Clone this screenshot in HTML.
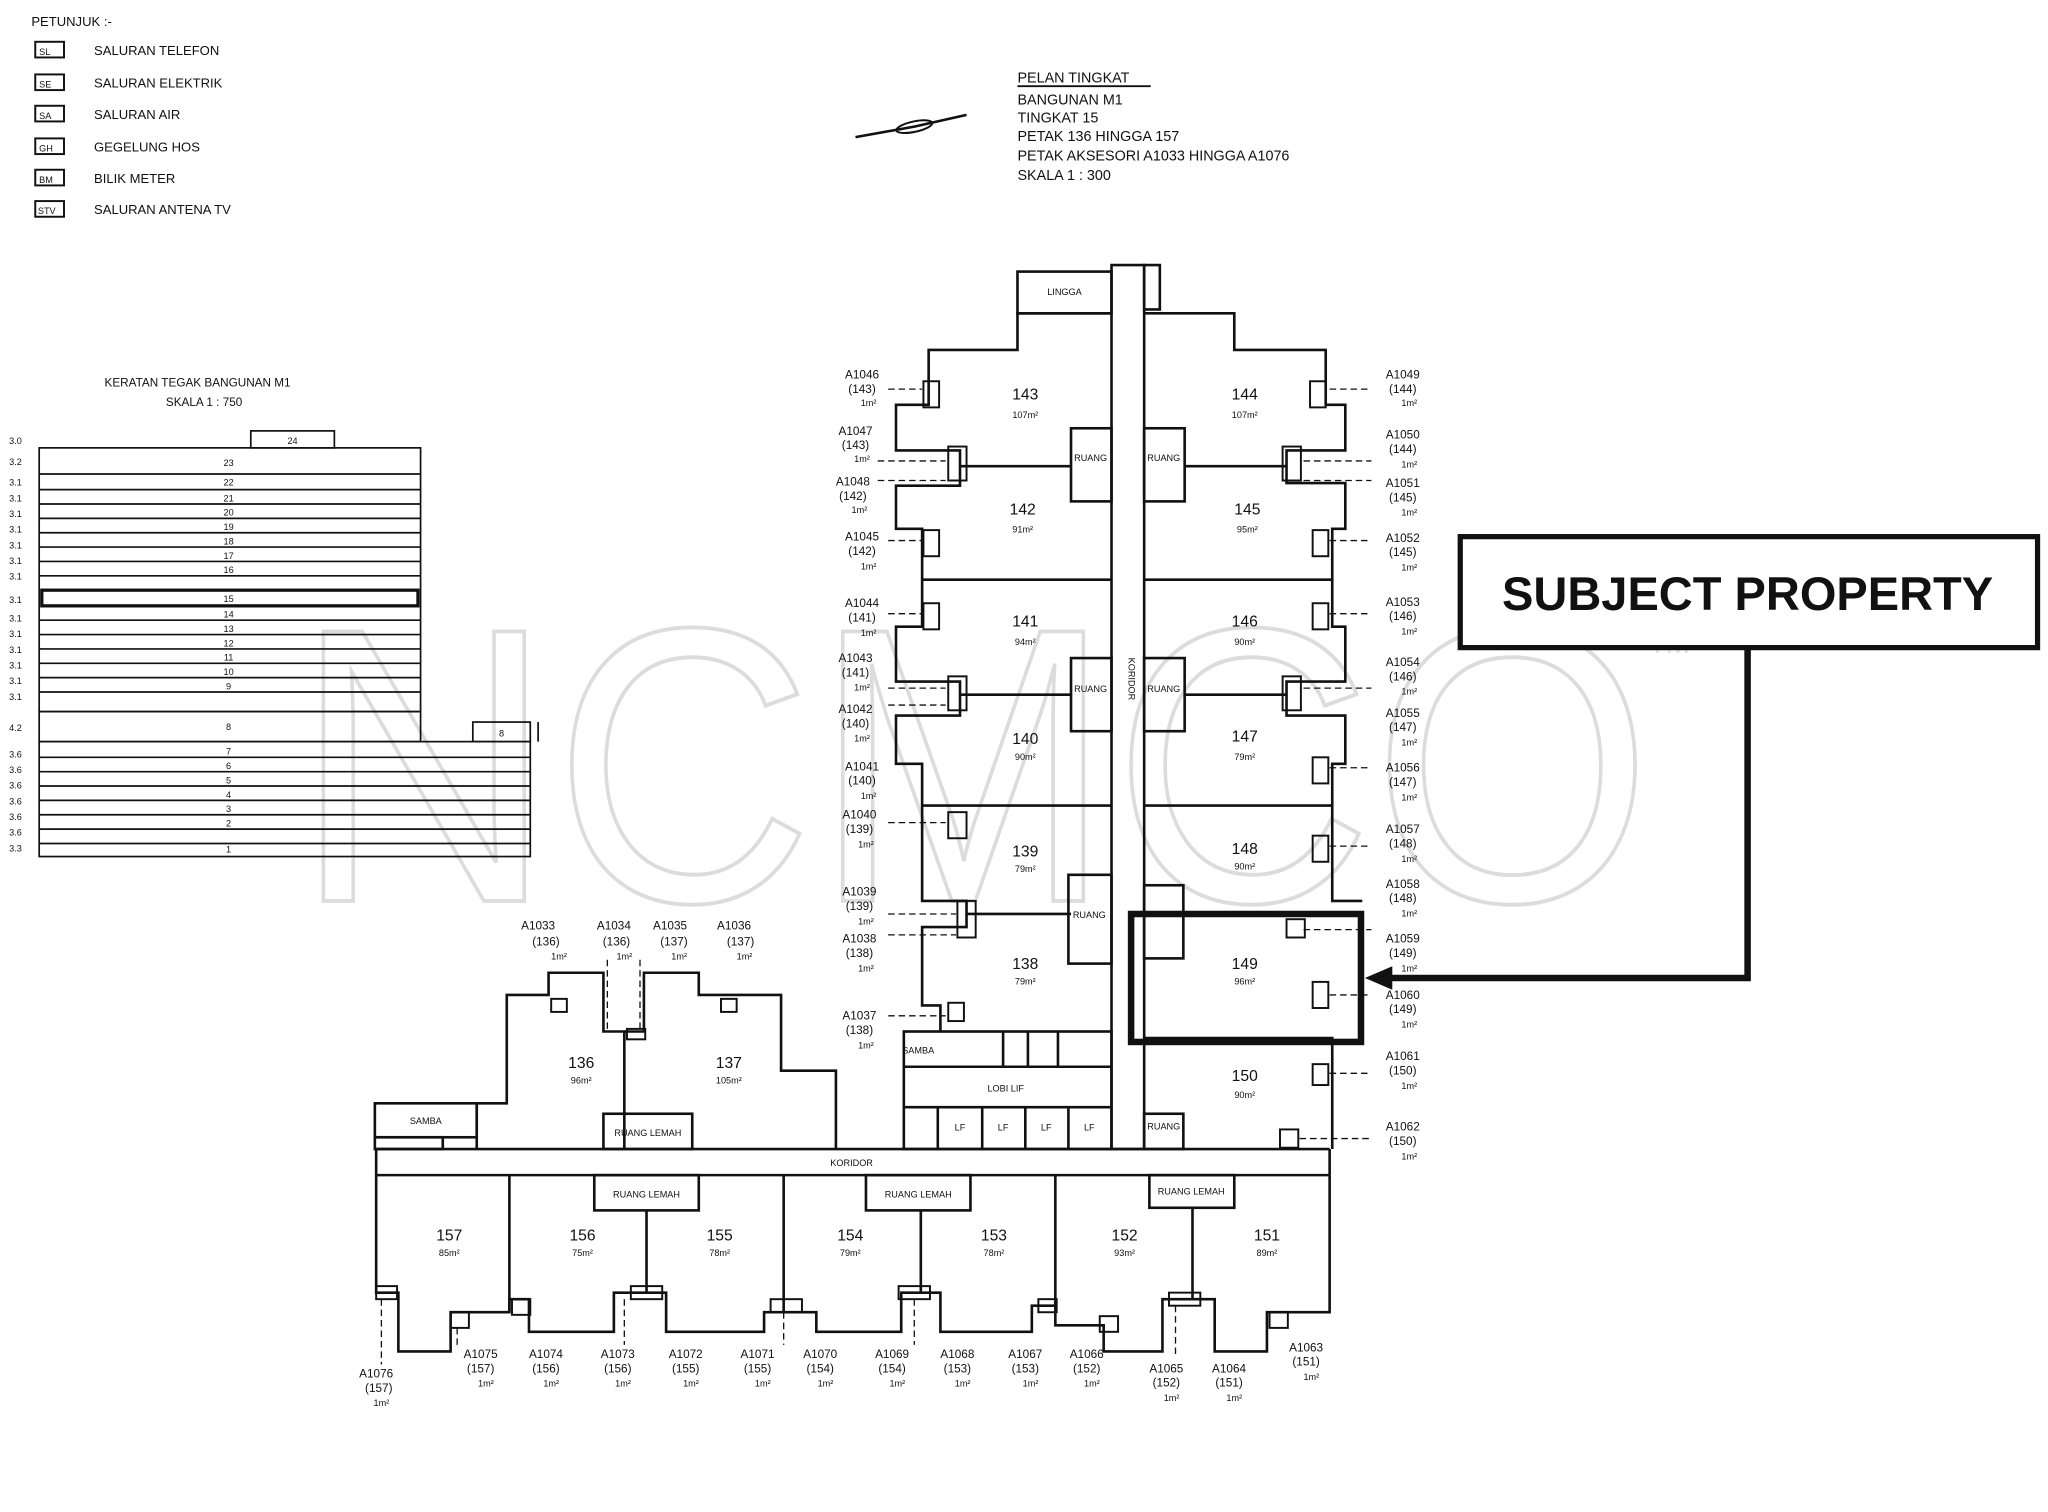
<!DOCTYPE html>
<html><head><meta charset="utf-8">
<style>
html,body{margin:0;padding:0;background:#fff;}
svg{display:block;}
text{font-family:"Liberation Sans",sans-serif;fill:#111;}
.s{font-size:9px;}
.xs{font-size:7px;}
.m{font-size:11px;}
</style></head>
<body>
<svg width="2048" height="1512" viewBox="0 0 1568 1158" preserveAspectRatio="none" xmlns="http://www.w3.org/2000/svg">
<rect width="1568" height="1158" fill="#fff"/>
<!-- watermark -->
<g fill="none" stroke="#d8d8d8" stroke-width="3" font-family="Liberation Sans" >
<text x="225" y="690" font-size="300" style="fill:none;stroke:#dcdcdc;stroke-width:3" textLength="1040" lengthAdjust="spacingAndGlyphs">NCMCO</text>
</g>
<text x="1262" y="500" font-size="22" style="fill:#e0e0e0">TM</text>

<!-- legend -->
<g class="s">
<text x="24" y="20" font-size="10">PETUNJUK :-</text>
<g fill="none" stroke="#111" stroke-width="1.5">
<rect x="27" y="32" width="22" height="12"/><rect x="27" y="57" width="22" height="12"/><rect x="27" y="81" width="22" height="12"/>
<rect x="27" y="106" width="22" height="12"/><rect x="27" y="130" width="22" height="12"/><rect x="27" y="154" width="22" height="12"/>
</g>
<text x="30" y="42" class="xs">SL</text><text x="30" y="67" class="xs">SE</text><text x="30" y="91" class="xs">SA</text>
<text x="30" y="116" class="xs">GH</text><text x="30" y="140" class="xs">BM</text><text x="29" y="164" class="xs">STV</text>
<text x="72" y="42" font-size="10">SALURAN TELEFON</text>
<text x="72" y="67" font-size="10">SALURAN ELEKTRIK</text>
<text x="72" y="91" font-size="10">SALURAN AIR</text>
<text x="72" y="116" font-size="10">GEGELUNG HOS</text>
<text x="72" y="140" font-size="10">BILIK METER</text>
<text x="72" y="164" font-size="10">SALURAN ANTENA TV</text>
</g>
<!-- north arrow -->
<path d="M655 105 L700 97 L740 88" stroke="#111" stroke-width="2" fill="none"/>
<ellipse cx="700" cy="97" rx="14" ry="4" transform="rotate(-12 700 97)" fill="none" stroke="#111" stroke-width="1.5"/>
<!-- title -->
<g font-size="11">
<text x="779" y="63">PELAN TINGKAT</text>
<line x1="779" y1="66" x2="881" y2="66" stroke="#111" stroke-width="1.5"/>
<text x="779" y="80">BANGUNAN M1</text>
<text x="779" y="94">TINGKAT 15</text>
<text x="779" y="108">PETAK 136 HINGGA 157</text>
<text x="779" y="123">PETAK AKSESORI A1033 HINGGA A1076</text>
<text x="779" y="138">SKALA 1 : 300</text>
</g>

<!-- section -->
<text x="80" y="296" class="s" font-size="10">KERATAN TEGAK BANGUNAN M1</text>
<text x="127" y="311" class="s" font-size="10">SKALA 1 : 750</text>
<g stroke="#111" fill="none" stroke-width="1.3">
<rect x="192" y="330" width="64" height="13"/>
<rect x="30" y="343" width="292" height="202"/>
<rect x="30" y="545" width="292" height="23"/>
<rect x="30" y="568" width="376" height="88"/>
<rect x="362" y="553" width="44" height="15"/>
<line x1="412" y1="553" x2="412" y2="568"/>
<rect x="32" y="452" width="288" height="12" stroke-width="2.5"/>
<line x1="30" y1="363" x2="322" y2="363"/><line x1="30" y1="375" x2="322" y2="375"/>
<line x1="30" y1="386" x2="322" y2="386"/><line x1="30" y1="397" x2="322" y2="397"/>
<line x1="30" y1="408" x2="322" y2="408"/><line x1="30" y1="419" x2="322" y2="419"/>
<line x1="30" y1="430" x2="322" y2="430"/><line x1="30" y1="441" x2="322" y2="441"/>
<line x1="30" y1="475" x2="322" y2="475"/><line x1="30" y1="486" x2="322" y2="486"/>
<line x1="30" y1="497" x2="322" y2="497"/><line x1="30" y1="508" x2="322" y2="508"/>
<line x1="30" y1="519" x2="322" y2="519"/><line x1="30" y1="530" x2="322" y2="530"/>
<line x1="30" y1="580" x2="406" y2="580"/><line x1="30" y1="591" x2="406" y2="591"/>
<line x1="30" y1="602" x2="406" y2="602"/><line x1="30" y1="613" x2="406" y2="613"/>
<line x1="30" y1="624" x2="406" y2="624"/><line x1="30" y1="635" x2="406" y2="635"/>
<line x1="30" y1="646" x2="406" y2="646"/>
</g>
<g class="xs" text-anchor="middle">
<text x="224" y="340">24</text><text x="175" y="357">23</text><text x="175" y="372">22</text><text x="175" y="384">21</text>
<text x="175" y="395">20</text><text x="175" y="406">19</text><text x="175" y="417">18</text><text x="175" y="428">17</text>
<text x="175" y="439">16</text><text x="175" y="461">15</text><text x="175" y="473">14</text><text x="175" y="484">13</text>
<text x="175" y="495">12</text><text x="175" y="506">11</text><text x="175" y="517">10</text><text x="175" y="528">9</text>
<text x="175" y="559">8</text><text x="175" y="578">7</text><text x="175" y="589">6</text><text x="175" y="600">5</text>
<text x="175" y="611">4</text><text x="175" y="622">3</text><text x="175" y="633">2</text><text x="175" y="653">1</text>
<text x="384" y="564">8</text>
</g>
<g class="xs"><text x="7" y="340">3.0</text><text x="7" y="356">3.2</text><text x="7" y="372">3.1</text><text x="7" y="384">3.1</text><text x="7" y="396">3.1</text><text x="7" y="408">3.1</text><text x="7" y="420">3.1</text><text x="7" y="432">3.1</text><text x="7" y="444">3.1</text><text x="7" y="462">3.1</text><text x="7" y="476">3.1</text><text x="7" y="488">3.1</text><text x="7" y="500">3.1</text><text x="7" y="512">3.1</text><text x="7" y="524">3.1</text><text x="7" y="536">3.1</text><text x="7" y="560">4.2</text><text x="7" y="580">3.6</text><text x="7" y="592">3.6</text><text x="7" y="604">3.6</text><text x="7" y="616">3.6</text><text x="7" y="628">3.6</text><text x="7" y="640">3.6</text><text x="7" y="652">3.3</text></g>

<!-- floor plan -->
<g stroke="#111" fill="none" stroke-width="2">
<!-- corridor -->
<rect x="851" y="203" width="25" height="677"/>
<rect x="779" y="208" width="72" height="32"/>
<rect x="876" y="203" width="12" height="34"/>
<!-- left wing outline -->
<polyline points="851,240 779,240 779,268 711,268 711,310 686,310 686,345 735,345 735,372 686,372 686,405 706,405 706,444 706,480 686,480 686,522 735,522 735,548 686,548 686,585 706,585 706,617 706,640 706,690 740,690 740,710 706,710 706,770 720,770 720,790"/>
<!-- right wing outline -->
<polyline points="876,240 945,240 945,268 1015,268 1015,310 1030,310 1030,345 985,345 985,370 1030,370 1030,405 1020,405 1020,444 1020,480 1030,480 1030,522 985,522 985,548 1030,548 1030,585 1020,585 1020,617 1020,690 1043,690"/>
<line x1="735" y1="357" x2="820" y2="357"/><line x1="907" y1="357" x2="985" y2="357"/>
<line x1="706" y1="444" x2="851" y2="444"/><line x1="876" y1="444" x2="1020" y2="444"/>
<line x1="735" y1="532" x2="820" y2="532"/><line x1="907" y1="532" x2="985" y2="532"/>
<line x1="706" y1="617" x2="851" y2="617"/><line x1="876" y1="617" x2="1020" y2="617"/>
<line x1="740" y1="700" x2="820" y2="700"/>
<rect x="820" y="328" width="31" height="56"/><rect x="876" y="328" width="31" height="56"/>
<rect x="820" y="504" width="31" height="56"/><rect x="876" y="504" width="31" height="56"/>
<rect x="818" y="670" width="33" height="68"/><rect x="876" y="678" width="30" height="56"/>
<!-- services block -->
<rect x="692" y="790" width="159" height="90"/>
<line x1="692" y1="817" x2="851" y2="817"/><line x1="692" y1="848" x2="851" y2="848"/>
<line x1="768" y1="790" x2="768" y2="817"/><line x1="787" y1="790" x2="787" y2="817"/>
<line x1="810" y1="790" x2="810" y2="817"/>
<line x1="718" y1="848" x2="718" y2="880"/><line x1="752" y1="848" x2="752" y2="880"/>
<line x1="785" y1="848" x2="785" y2="880"/><line x1="818" y1="848" x2="818" y2="880"/>
<!-- right lower -->
<polyline points="876,795 1020,795 1020,880"/>
<rect x="876" y="853" width="30" height="27"/>
<!-- units 136/137 -->
<polyline points="365,880 365,845 388,845 388,762 420,762 420,745 462,745 462,790 478,790 478,880"/>
<polyline points="478,790 493,790 493,745 535,745 535,762 598,762 598,820 640,820 640,880"/>
<rect x="462" y="853" width="68" height="27"/>
<rect x="287" y="845" width="78" height="26"/><rect x="287" y="871" width="52" height="9"/>
<!-- main horizontal corridor -->
<line x1="288" y1="880" x2="1018" y2="880"/>
<line x1="288" y1="900" x2="1018" y2="900"/>
<line x1="288" y1="880" x2="288" y2="900"/><line x1="1018" y1="880" x2="1018" y2="900"/>
<!-- bottom units -->
<polyline points="288,900 288,990 305,990 305,1035 345,1035 345,1005 390,1005 390,995 405,995 405,1020 470,1020 470,990 510,990 510,1020 585,1020 585,1005 625,1005 625,1020 690,1020 690,990 720,990 720,1020 790,1020 790,1000 808,1000 808,1015 845,1015 845,1035 890,1035 890,995 930,995 930,1035 970,1035 970,1005 1018,1005 1018,900"/>
<line x1="390" y1="900" x2="390" y2="1005"/><line x1="495" y1="927" x2="495" y2="990"/>
<line x1="600" y1="900" x2="600" y2="1005"/><line x1="705" y1="927" x2="705" y2="990"/>
<line x1="808" y1="900" x2="808" y2="1000"/><line x1="913" y1="925" x2="913" y2="995"/>
<rect x="455" y="900" width="80" height="27"/><rect x="663" y="900" width="80" height="27"/>
<rect x="880" y="900" width="65" height="25"/>
</g>
<!-- small meter boxes -->
<g stroke="#111" fill="none" stroke-width="1.5">
<rect x="707" y="292" width="12" height="20"/><rect x="726" y="342" width="14" height="26"/><rect x="707" y="406" width="12" height="20"/>
<rect x="707" y="462" width="12" height="20"/><rect x="726" y="518" width="14" height="26"/><rect x="726" y="622" width="14" height="20"/>
<rect x="733" y="690" width="14" height="28"/><rect x="726" y="768" width="12" height="14"/>
<rect x="1003" y="292" width="12" height="20"/><rect x="982" y="342" width="14" height="26"/><rect x="1005" y="406" width="12" height="20"/>
<rect x="1005" y="462" width="12" height="20"/><rect x="982" y="518" width="14" height="26"/><rect x="1005" y="580" width="12" height="20"/>
<rect x="1005" y="640" width="12" height="20"/><rect x="985" y="704" width="14" height="14"/><rect x="1005" y="752" width="12" height="20"/>
<rect x="1005" y="815" width="12" height="16"/><rect x="980" y="865" width="14" height="14"/>
<rect x="422" y="765" width="12" height="10"/><rect x="552" y="765" width="12" height="10"/><rect x="480" y="788" width="14" height="8"/>
<rect x="288" y="985" width="16" height="10"/><rect x="345" y="1005" width="14" height="12"/><rect x="392" y="995" width="14" height="12"/>
<rect x="483" y="985" width="24" height="10"/><rect x="590" y="995" width="24" height="10"/><rect x="688" y="985" width="24" height="10"/>
<rect x="795" y="995" width="14" height="10"/><rect x="842" y="1008" width="14" height="12"/><rect x="895" y="990" width="24" height="10"/>
<rect x="972" y="1005" width="14" height="12"/>
</g>
<!-- dashed leaders -->
<g stroke="#111" stroke-width="1" stroke-dasharray="5,3">
<line x1="680" y1="298" x2="706" y2="298"/><line x1="672" y1="353" x2="724" y2="353"/><line x1="672" y1="368" x2="724" y2="368"/>
<line x1="680" y1="414" x2="706" y2="414"/><line x1="680" y1="470" x2="706" y2="470"/><line x1="680" y1="527" x2="724" y2="527"/>
<line x1="680" y1="540" x2="724" y2="540"/><line x1="680" y1="630" x2="724" y2="630"/><line x1="680" y1="700" x2="732" y2="700"/>
<line x1="680" y1="716" x2="732" y2="716"/><line x1="680" y1="778" x2="724" y2="778"/>
<line x1="1018" y1="298" x2="1050" y2="298"/><line x1="998" y1="353" x2="1050" y2="353"/><line x1="998" y1="368" x2="1050" y2="368"/>
<line x1="1018" y1="414" x2="1050" y2="414"/><line x1="1018" y1="470" x2="1050" y2="470"/><line x1="998" y1="527" x2="1050" y2="527"/>
<line x1="1018" y1="588" x2="1050" y2="588"/><line x1="1018" y1="648" x2="1050" y2="648"/><line x1="998" y1="712" x2="1050" y2="712"/>
<line x1="1018" y1="762" x2="1050" y2="762"/><line x1="1018" y1="822" x2="1050" y2="822"/><line x1="995" y1="872" x2="1050" y2="872"/>
<line x1="292" y1="995" x2="292" y2="1045"/><line x1="350" y1="1017" x2="350" y2="1030"/><line x1="478" y1="995" x2="478" y2="1030"/>
<line x1="600" y1="1005" x2="600" y2="1030"/><line x1="700" y1="995" x2="700" y2="1030"/><line x1="900" y1="1000" x2="900" y2="1040"/>
<line x1="465" y1="735" x2="465" y2="790"/><line x1="490" y1="735" x2="490" y2="790"/>
</g>
<!-- room labels -->
<g text-anchor="middle" font-size="12">
<text x="785" y="306">143</text><text x="953" y="306">144</text>
<text x="783" y="394">142</text><text x="955" y="394">145</text>
<text x="785" y="480">141</text><text x="953" y="480">146</text>
<text x="785" y="570">140</text><text x="953" y="568">147</text>
<text x="785" y="656">139</text><text x="953" y="654">148</text>
<text x="785" y="742">138</text><text x="953" y="742">149</text>
<text x="953" y="828">150</text>
<text x="445" y="818">136</text><text x="558" y="818">137</text>
<text x="344" y="950">157</text><text x="446" y="950">156</text><text x="551" y="950">155</text>
<text x="651" y="950">154</text><text x="761" y="950">153</text><text x="861" y="950">152</text><text x="970" y="950">151</text>
</g>
<g text-anchor="middle" class="xs">
<text x="785" y="320">107m²</text><text x="953" y="320">107m²</text><text x="783" y="408">91m²</text><text x="955" y="408">95m²</text>
<text x="785" y="494">94m²</text><text x="953" y="494">90m²</text><text x="785" y="582">90m²</text><text x="953" y="582">79m²</text>
<text x="785" y="668">79m²</text><text x="953" y="666">90m²</text><text x="785" y="754">79m²</text><text x="953" y="754">96m²</text>
<text x="953" y="841">90m²</text><text x="445" y="830">96m²</text><text x="558" y="830">105m²</text>
<text x="344" y="962">85m²</text><text x="446" y="962">75m²</text><text x="551" y="962">78m²</text><text x="651" y="962">79m²</text>
<text x="761" y="962">78m²</text><text x="861" y="962">93m²</text><text x="970" y="962">89m²</text>
<text x="815" y="226">LINGGA</text><text x="703" y="807">SAMBA</text><text x="770" y="836">LOBI LIF</text>
<text x="326" y="861">SAMBA</text><text x="496" y="870">RUANG LEMAH</text>
<text x="495" y="917">RUANG LEMAH</text><text x="703" y="917">RUANG LEMAH</text><text x="912" y="915">RUANG LEMAH</text>
<text x="652" y="893">KORIDOR</text>
<text x="735" y="866">LF</text><text x="768" y="866">LF</text><text x="801" y="866">LF</text><text x="834" y="866">LF</text>
<text x="835" y="353">RUANG</text><text x="891" y="353">RUANG</text><text x="835" y="530">RUANG</text><text x="891" y="530">RUANG</text>
<text x="834" y="703">RUANG</text><text x="891" y="865">RUANG</text>
<text x="864" y="520" transform="rotate(90 864 520)">KORIDOR</text>
</g>
<!-- accessory labels left -->
<g text-anchor="middle" class="s">
<text x="660" y="290">A1046</text><text x="660" y="301">(143)</text><text x="665" y="311" class="xs">1m²</text>
<text x="655" y="333">A1047</text><text x="655" y="344">(143)</text><text x="660" y="354" class="xs">1m²</text>
<text x="653" y="372">A1048</text><text x="653" y="383">(142)</text><text x="658" y="393" class="xs">1m²</text>
<text x="660" y="414">A1045</text><text x="660" y="425">(142)</text><text x="665" y="436" class="xs">1m²</text>
<text x="660" y="465">A1044</text><text x="660" y="476">(141)</text><text x="665" y="487" class="xs">1m²</text>
<text x="655" y="507">A1043</text><text x="655" y="518">(141)</text><text x="660" y="529" class="xs">1m²</text>
<text x="655" y="546">A1042</text><text x="655" y="557">(140)</text><text x="660" y="568" class="xs">1m²</text>
<text x="660" y="590">A1041</text><text x="660" y="601">(140)</text><text x="665" y="612" class="xs">1m²</text>
<text x="658" y="627">A1040</text><text x="658" y="638">(139)</text><text x="663" y="649" class="xs">1m²</text>
<text x="658" y="686">A1039</text><text x="658" y="697">(139)</text><text x="663" y="708" class="xs">1m²</text>
<text x="658" y="722">A1038</text><text x="658" y="733">(138)</text><text x="663" y="744" class="xs">1m²</text>
<text x="658" y="781">A1037</text><text x="658" y="792">(138)</text><text x="663" y="803" class="xs">1m²</text>
</g>
<!-- accessory labels right -->
<g text-anchor="middle" class="s">
<text x="1074" y="290">A1049</text><text x="1074" y="301">(144)</text><text x="1079" y="311" class="xs">1m²</text>
<text x="1074" y="336">A1050</text><text x="1074" y="347">(144)</text><text x="1079" y="358" class="xs">1m²</text>
<text x="1074" y="373">A1051</text><text x="1074" y="384">(145)</text><text x="1079" y="395" class="xs">1m²</text>
<text x="1074" y="415">A1052</text><text x="1074" y="426">(145)</text><text x="1079" y="437" class="xs">1m²</text>
<text x="1074" y="464">A1053</text><text x="1074" y="475">(146)</text><text x="1079" y="486" class="xs">1m²</text>
<text x="1074" y="510">A1054</text><text x="1074" y="521">(146)</text><text x="1079" y="532" class="xs">1m²</text>
<text x="1074" y="549">A1055</text><text x="1074" y="560">(147)</text><text x="1079" y="571" class="xs">1m²</text>
<text x="1074" y="591">A1056</text><text x="1074" y="602">(147)</text><text x="1079" y="613" class="xs">1m²</text>
<text x="1074" y="638">A1057</text><text x="1074" y="649">(148)</text><text x="1079" y="660" class="xs">1m²</text>
<text x="1074" y="680">A1058</text><text x="1074" y="691">(148)</text><text x="1079" y="702" class="xs">1m²</text>
<text x="1074" y="722">A1059</text><text x="1074" y="733">(149)</text><text x="1079" y="744" class="xs">1m²</text>
<text x="1074" y="765">A1060</text><text x="1074" y="776">(149)</text><text x="1079" y="787" class="xs">1m²</text>
<text x="1074" y="812">A1061</text><text x="1074" y="823">(150)</text><text x="1079" y="834" class="xs">1m²</text>
<text x="1074" y="866">A1062</text><text x="1074" y="877">(150)</text><text x="1079" y="888" class="xs">1m²</text>
</g>
<!-- accessory labels top of 136/137 -->
<g text-anchor="middle" class="s">
<text x="412" y="712">A1033</text><text x="418" y="724">(136)</text><text x="428" y="735" class="xs">1m²</text>
<text x="470" y="712">A1034</text><text x="472" y="724">(136)</text><text x="478" y="735" class="xs">1m²</text>
<text x="513" y="712">A1035</text><text x="516" y="724">(137)</text><text x="520" y="735" class="xs">1m²</text>
<text x="562" y="712">A1036</text><text x="567" y="724">(137)</text><text x="570" y="735" class="xs">1m²</text>
</g>
<!-- accessory labels bottom -->
<g text-anchor="middle" class="s">
<text x="288" y="1055">A1076</text><text x="290" y="1066">(157)</text><text x="292" y="1077" class="xs">1m²</text>
<text x="368" y="1040">A1075</text><text x="368" y="1051">(157)</text><text x="372" y="1062" class="xs">1m²</text>
<text x="418" y="1040">A1074</text><text x="418" y="1051">(156)</text><text x="422" y="1062" class="xs">1m²</text>
<text x="473" y="1040">A1073</text><text x="473" y="1051">(156)</text><text x="477" y="1062" class="xs">1m²</text>
<text x="525" y="1040">A1072</text><text x="525" y="1051">(155)</text><text x="529" y="1062" class="xs">1m²</text>
<text x="580" y="1040">A1071</text><text x="580" y="1051">(155)</text><text x="584" y="1062" class="xs">1m²</text>
<text x="628" y="1040">A1070</text><text x="628" y="1051">(154)</text><text x="632" y="1062" class="xs">1m²</text>
<text x="683" y="1040">A1069</text><text x="683" y="1051">(154)</text><text x="687" y="1062" class="xs">1m²</text>
<text x="733" y="1040">A1068</text><text x="733" y="1051">(153)</text><text x="737" y="1062" class="xs">1m²</text>
<text x="785" y="1040">A1067</text><text x="785" y="1051">(153)</text><text x="789" y="1062" class="xs">1m²</text>
<text x="832" y="1040">A1066</text><text x="832" y="1051">(152)</text><text x="836" y="1062" class="xs">1m²</text>
<text x="893" y="1051">A1065</text><text x="893" y="1062">(152)</text><text x="897" y="1073" class="xs">1m²</text>
<text x="941" y="1051">A1064</text><text x="941" y="1062">(151)</text><text x="945" y="1073" class="xs">1m²</text>
<text x="1000" y="1035">A1063</text><text x="1000" y="1046">(151)</text><text x="1004" y="1057" class="xs">1m²</text>
</g>

<!-- subject property highlight -->
<rect x="866" y="700" width="176" height="98" fill="none" stroke="#111" stroke-width="5"/>
<rect x="1118" y="411" width="442" height="85" fill="#fff" stroke="#111" stroke-width="4"/>
<text x="1338" y="467" text-anchor="middle" font-size="36" font-weight="bold" style="fill:#111">SUBJECT PROPERTY</text>
<polyline points="1338,496 1338,749 1062,749" fill="none" stroke="#111" stroke-width="5"/>
<polygon points="1045,749 1066,740 1066,758" fill="#111"/>
</svg>
</body></html>
